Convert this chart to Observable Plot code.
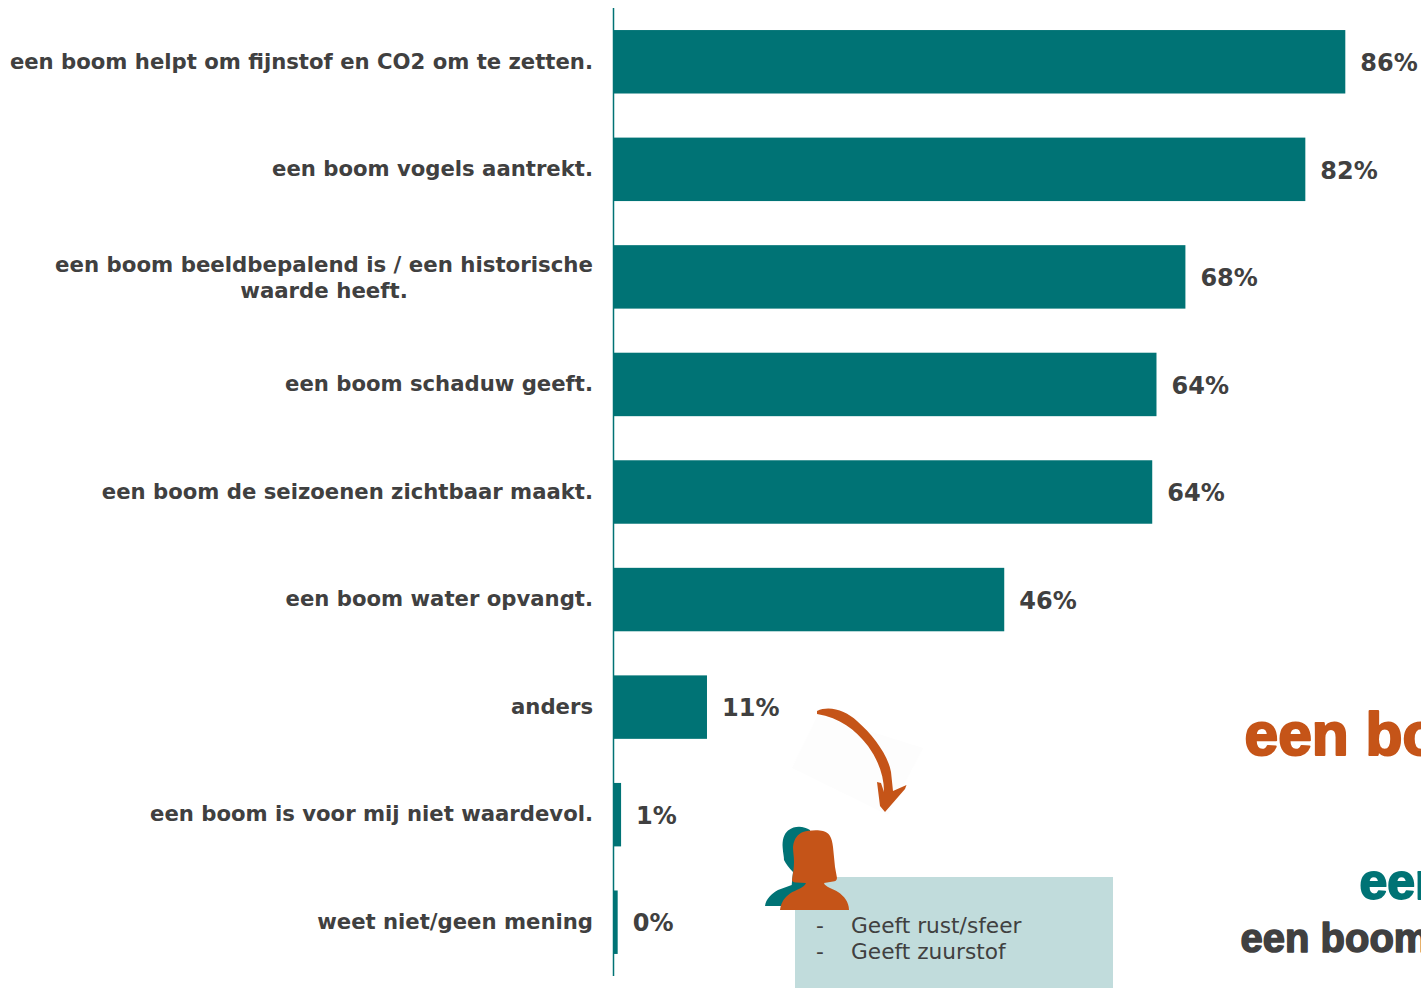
<!DOCTYPE html>
<html lang="nl">
<head>
<meta charset="utf-8">
<title>Waarde van een boom</title>
<script src="https://cdn.jsdelivr.net/npm/d3@7"></script>
<script src="https://cdn.jsdelivr.net/npm/@observablehq/plot@0.6"></script>
<style>
html,body{margin:0;padding:0;background:#fff;overflow:hidden;width:1421px;height:988px}
#chart svg{display:block}
</style>
</head>
<body>
<div id="chart"></div>
<script>
const categories = [
  "een boom helpt om fijnstof en CO2 om te zetten.",
  "een boom vogels aantrekt.",
  "een boom beeldbepalend is / een historische\nwaarde heeft.",
  "een boom schaduw geeft.",
  "een boom de seizoenen zichtbaar maakt.",
  "een boom water opvangt.",
  "anders",
  "een boom is voor mij niet waardevol.",
  "weet niet/geen mening"
];
const barValues = [86.1, 81.4, 67.3, 63.9, 63.4, 46.0, 11.05, 0.95, 0.55];
const valueLabels = ["86%", "82%", "68%", "64%", "64%", "46%", "11%", "1%", "0%"];
const boxLines = ["-", "Geeft rust/sfeer", "-", "Geeft zuurstof"];
const headlines = ["een boom", "een boom", "een boom"];

const rows = categories.map((c, i) => ({c, v: barValues[i], label: valueLabels[i]}));
const teal = "#007375", orange = "#c55418", grey = "#404040", boxFill = "#c1dcdc";
const labelFont = "'DejaVu Sans', Verdana, sans-serif";
const headFont = "'Liberation Sans', Arial, sans-serif";

const arrowPath = "M817,711 C830,705 846,711 857,721 C873,735 888,755 891,772 L893,791 L906.5,785 L905,789 L885,812 L880,806 L877,782 L881,783 L884,792 C884,775 878,760 868,746 C855,729 840,718 817,714 Z";
const tealPerson = "M765,906 C766,899 771,894 778,890 L791.7,885 L793,872 C789,868 786,864 784,860 C784,856 783,853 782.7,848 C782,840 784,834 788,830.5 C792,827.5 795,826.7 799,826.7 C803,826.7 807,828 810,830 L815,906 Z";
const orangePerson = "M780,910 C781,902 785,897 790,893.5 C796,889.5 804,888 806,883 L796,882.5 C793.5,882.5 792,881.5 792,880 C793,873 794,868 794,862 C794,856 793,852 793,847 C794,838 798,834 803,832 C808,830.2 818,829.5 823,831 C829,832.5 832,837 833,847 L835,867 L837,878 C837,880.5 835,881.5 833,881.5 L824,883 C825,887 833,888.5 838,892 C844,896 849,902 849,910 Z";
const glowPath = "M818,715 L923,748 L888,815 L792,768 Z";

function decoration() {
  const g = d3.create("svg:g");
  g.append("path").attr("d", glowPath).attr("fill", "#fdfdfd");
  g.append("path").attr("d", arrowPath).attr("fill", orange);
  g.append("rect").attr("x", 795).attr("y", 877).attr("width", 318).attr("height", 111).attr("fill", boxFill);
  g.append("path").attr("d", tealPerson).attr("fill", teal);
  g.append("path").attr("d", orangePerson).attr("fill", orange);
  return g.node();
}

const plot = Plot.plot({
  width: 1421,
  height: 988,
  marginLeft: 613,
  marginRight: 0,
  marginTop: 8,
  marginBottom: 12,
  style: {overflow: "hidden", background: "#fff"},
  x: {domain: [0, 95], axis: null},
  y: {domain: categories, axis: null, round: false, paddingInner: 0.41, paddingOuter: 0.205},
  marks: [
    decoration,
    Plot.barX(rows, {x: "v", y: "c", fill: teal}),
    Plot.ruleX([0], {stroke: teal, strokeWidth: 1.5}),
    Plot.text(rows.filter(d => !d.c.includes("\n")), {
      x: () => 0, y: "c", text: "c", textAnchor: "end", dx: -20.5, dy: -0.5,
      fontFamily: labelFont, fontWeight: 700, fontSize: 21.2, fill: grey
    }),
    Plot.text(rows.filter(d => d.c.includes("\n")), {
      x: () => 0, y: "c", text: "c", textAnchor: "middle", dx: -289.5, dy: -1,
      lineHeight: 1.22, fontFamily: labelFont, fontWeight: 700, fontSize: 21.3, fill: grey
    }),
    Plot.text(rows, {
      x: "v", y: "c", text: "label", textAnchor: "start", dx: 14.5, dy: 1,
      fontFamily: labelFont, fontWeight: 700, fontSize: 24, fill: grey
    }),
    Plot.text([boxLines[0]], {frameAnchor: "top-left", text: d => d, dx: 815.5 - 613, dy: 926 - 8, lineAnchor: "middle", fontFamily: labelFont, fontSize: 21.7, fill: grey}),
    Plot.text([boxLines[1]], {frameAnchor: "top-left", text: d => d, dx: 850.5 - 613, dy: 926 - 8, lineAnchor: "middle", fontFamily: labelFont, fontSize: 21.7, fill: grey}),
    Plot.text([boxLines[2]], {frameAnchor: "top-left", text: d => d, dx: 815.5 - 613, dy: 952 - 8, lineAnchor: "middle", fontFamily: labelFont, fontSize: 21.7, fill: grey}),
    Plot.text([boxLines[3]], {frameAnchor: "top-left", text: d => d, dx: 850.5 - 613, dy: 952 - 8, lineAnchor: "middle", fontFamily: labelFont, fontSize: 21.7, fill: grey}),
    Plot.text([headlines[0]], {frameAnchor: "top-left", text: d => d, dx: 1244 - 613, dy: 754 - 8, lineAnchor: "bottom", fontFamily: headFont, fontWeight: 700, fontSize: 60.5, fill: orange, stroke: orange, strokeWidth: 2.2}),
    Plot.text([headlines[1]], {frameAnchor: "top-left", text: d => d, dx: 1359 - 613, dy: 898 - 8, lineAnchor: "bottom", fontFamily: headFont, fontWeight: 700, fontSize: 50, fill: teal, stroke: teal, strokeWidth: 1.8}),
    Plot.text([headlines[2]], {frameAnchor: "top-left", text: d => d, dx: 1240 - 613, dy: 951 - 8, lineAnchor: "bottom", fontFamily: headFont, fontWeight: 700, fontSize: 40, fill: grey, stroke: grey, strokeWidth: 1.5})
  ]
});
document.getElementById("chart").append(plot);
</script>
</body>
</html>
